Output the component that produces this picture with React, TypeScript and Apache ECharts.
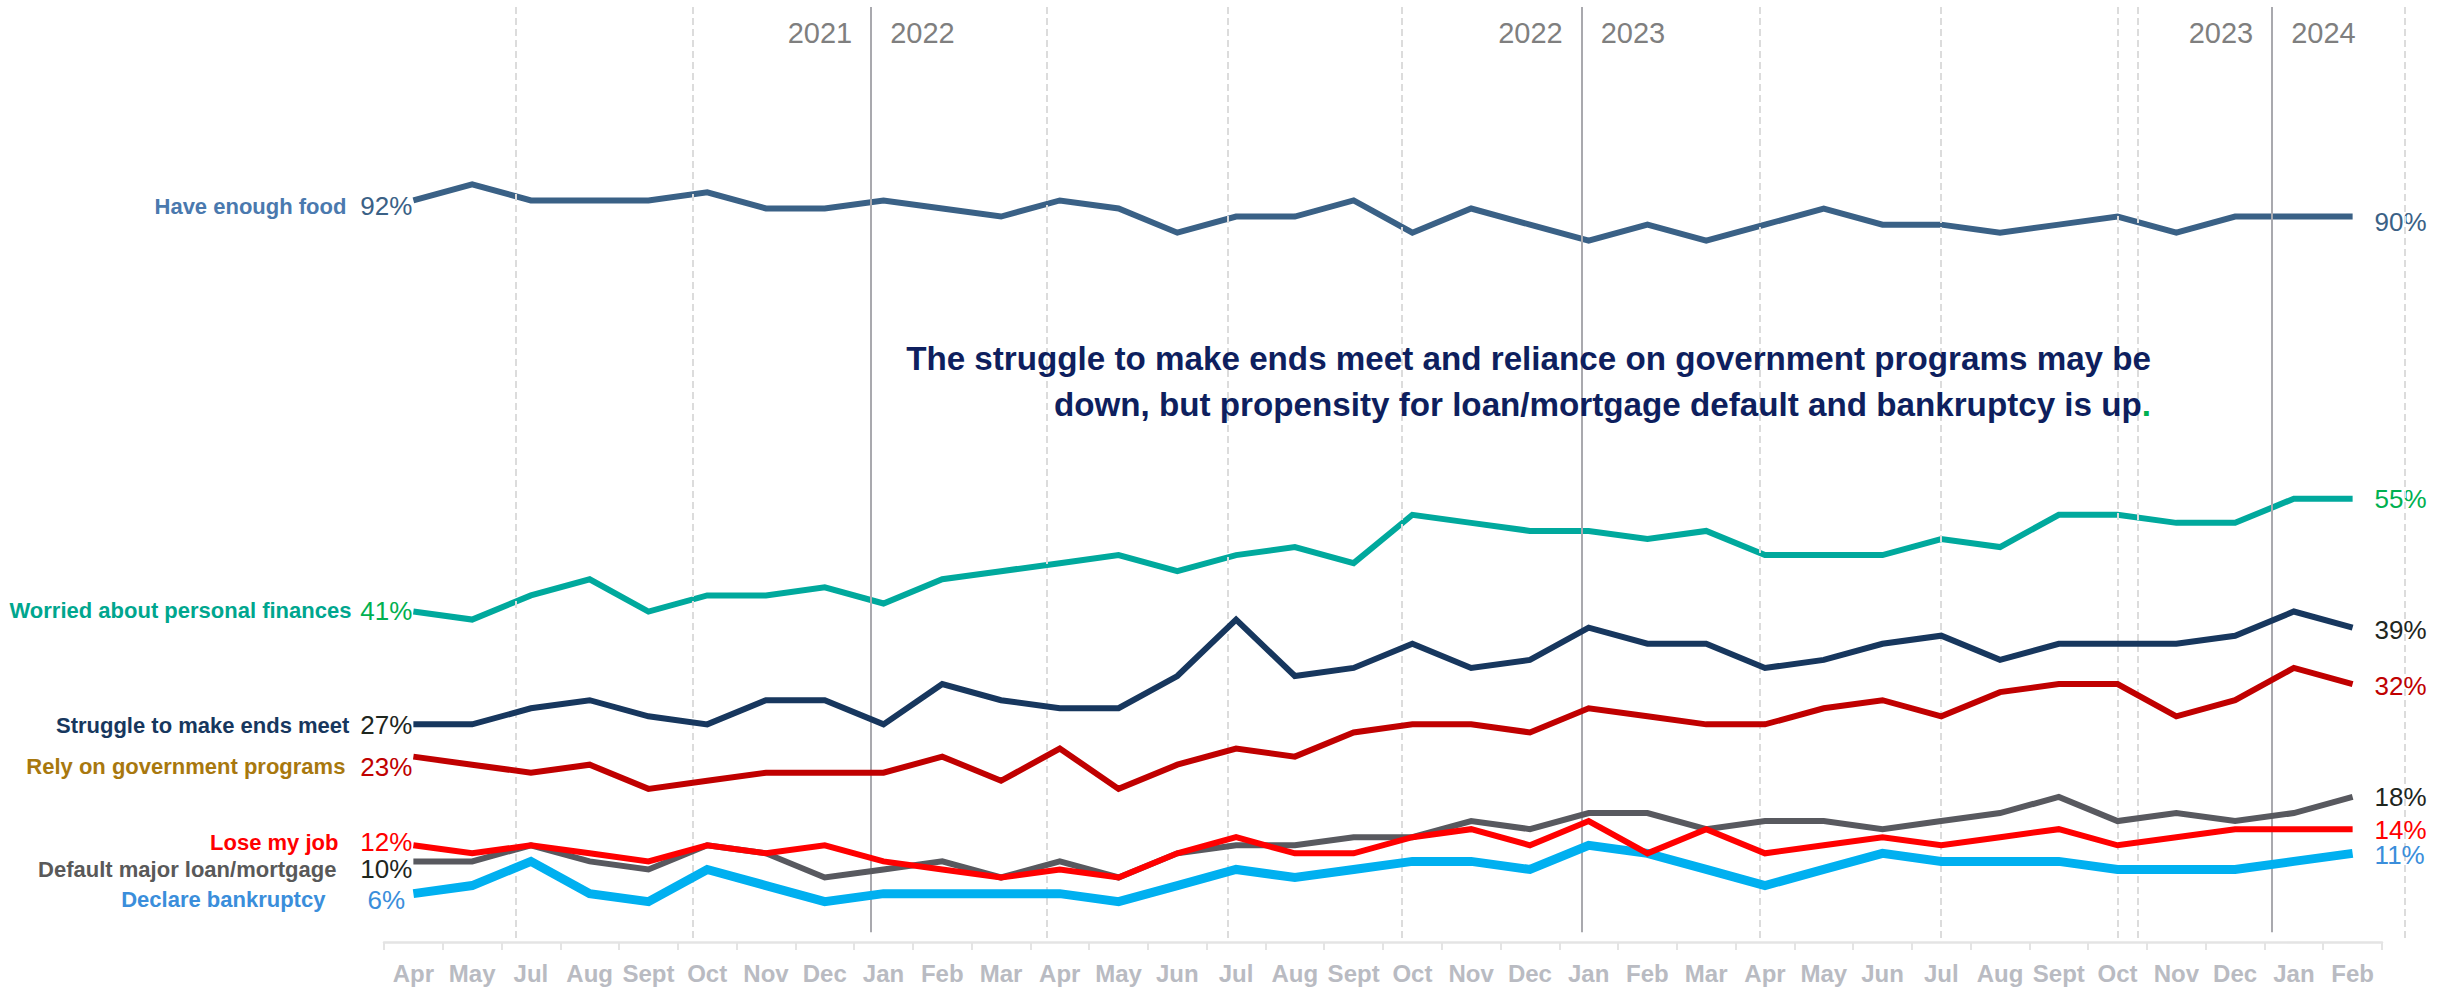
import React, { useEffect, useRef } from 'react';
import * as echarts from 'echarts';

// ---------- data ----------
const months = [
  'Apr', 'May', 'Jul', 'Aug', 'Sept', 'Oct', 'Nov', 'Dec',
  'Jan', 'Feb', 'Mar', 'Apr', 'May', 'Jun', 'Jul', 'Aug', 'Sept', 'Oct', 'Nov', 'Dec',
  'Jan', 'Feb', 'Mar', 'Apr', 'May', 'Jun', 'Jul', 'Aug', 'Sept', 'Oct', 'Nov', 'Dec',
  'Jan', 'Feb',
];

const haveEnoughFood = [92, 94, 92, 92, 92, 93, 91, 91, 92, 91, 90, 92, 91, 88, 90, 90, 92, 88, 91, 89, 87, 89, 87, 89, 91, 89, 89, 88, 89, 90, 88, 90, 90, 90];
const worriedFinances = [41, 40, 43, 45, 41, 43, 43, 44, 42, 45, 46, 47, 48, 46, 48, 49, 47, 53, 52, 51, 51, 50, 51, 48, 48, 48, 50, 49, 53, 53, 52, 52, 55, 55];
const struggleEnds = [27, 27, 29, 30, 28, 27, 30, 30, 27, 32, 30, 29, 29, 33, 40, 33, 34, 37, 34, 35, 39, 37, 37, 34, 35, 37, 38, 35, 37, 37, 37, 38, 41, 39];
const relyGovernment = [23, 22, 21, 22, 19, 20, 21, 21, 21, 23, 20, 24, 19, 22, 24, 23, 26, 27, 27, 26, 29, 28, 27, 27, 29, 30, 28, 31, 32, 32, 28, 30, 34, 32];
const loseJob = [12, 11, 12, 11, 10, 12, 11, 12, 10, 9, 8, 9, 8, 11, 13, 11, 11, 13, 14, 12, 15, 11, 14, 11, 12, 13, 12, 13, 14, 12, 13, 14, 14, 14];
const defaultLoan = [10, 10, 12, 10, 9, 12, 11, 8, 9, 10, 8, 10, 8, 11, 12, 12, 13, 13, 15, 14, 16, 16, 14, 15, 15, 14, 15, 16, 18, 15, 16, 15, 16, 18];
const declareBankruptcy = [6, 7, 10, 6, 5, 9, 7, 5, 6, 6, 6, 6, 5, 7, 9, 8, 9, 10, 10, 9, 12, 11, 9, 7, 9, 11, 10, 10, 10, 9, 9, 9, 10, 11];

const seriesNames = [
  'Have enough food',
  'Worried about personal finances',
  'Struggle to make ends meet',
  'Rely on government programs',
  'Default major loan/mortgage',
  'Declare bankruptcy',
  'Lose my job',
];

// gridline positions in category-index units
const quarterLines = [1.75, 4.76, 10.77, 13.86, 16.82, 22.91, 25.99, 29.0, 29.34, 33.88];
const yearLines = [7.79, 19.88, 31.63];
const yearLabelPairs = [['2021', '2022'], ['2022', '2023'], ['2023', '2024']];

const titleLine1 = 'The struggle to make ends meet and reliance on government programs may be';
const titleLine2 = 'down, but propensity for loan/mortgage default and bankruptcy is up';

// ---------- styles ----------
const FONT = "'Liberation Sans', Arial, sans-serif";
const Y_MAX = 116;

const styles = [
  { line: '#3A6186', width: 6, name: '#4A79AE', start: '#3A6186', end: '#3A6186', gap: 13, dy: 6, endDy: 5 },
  { line: '#00A99D', width: 6, name: '#00A68E', start: '#00B050', end: '#00B050', gap: 8, dy: -1, endDy: 0 },
  { line: '#17375E', width: 6, name: '#17375E', start: '#1E261E', end: '#1E261E', gap: 10, dy: 1, endDy: 2 },
  { line: '#C00000', width: 6, name: '#A8780E', start: '#C00000', end: '#C00000', gap: 14, dy: 10, endDy: 2 },
  { line: '#58595F', width: 6, name: '#595959', start: '#1E261E', end: '#1E261E', gap: 23, dy: 8, endDy: 0 },
  { line: '#00B0F0', width: 9, name: '#3A8EDB', start: '#3A8EDB', end: '#3A8EDB', gap: 34, dy: 6, endDy: 2 },
  { line: '#FF0000', width: 6, name: '#FF0000', start: '#FF0000', end: '#FF0000', gap: 21, dy: -3, endDy: 1 },
];

const seriesValues = [
  haveEnoughFood,
  worriedFinances,
  struggleEnds,
  relyGovernment,
  defaultLoan,
  declareBankruptcy,
  loseJob,
];

function buildSeries() {
  const out: any[] = [];
  seriesValues.forEach((vals, si) => {
    const st = styles[si];
    const name = seriesNames[si];
    const last = vals.length - 1;
    const data = vals.map((v, i) => {
      if (i === 0) {
        return {
          value: v,
          label: {
            show: true,
            position: 'left',
            distance: 0,
            offset: [0, st.dy],
            formatter: `{n|${name}}{p|${v}%}`,
            rich: {
              n: {
                fontFamily: FONT,
                fontSize: 22,
                fontWeight: 'bold',
                color: st.name,
                padding: [0, st.gap, 0, 0],
                verticalAlign: 'middle',
              },
              p: {
                fontFamily: FONT,
                fontSize: 26,
                color: st.start,
                width: 54,
                align: 'left',
                verticalAlign: 'middle',
              },
            },
          },
        };
      }
      if (i === last) {
        return {
          value: v,
          label: {
            show: true,
            position: 'right',
            distance: 22,
            offset: [0, st.endDy],
            formatter: `${v}%`,
            fontFamily: FONT,
            fontSize: 26,
            color: st.end,
          },
        };
      }
      return v;
    });
    out.push({
      type: 'line',
      name,
      xAxisIndex: 0,
      yAxisIndex: 0,
      data,
      symbol: 'circle',
      symbolSize: 0,
      showSymbol: true,
      showAllSymbol: true,
      silent: true,
      lineStyle: { color: st.line, width: st.width, join: 'miter' },
      itemStyle: { color: st.line },
      emphasis: { disabled: true },
      z: 3 + si,
    });
  });

  // gridlines & year labels on the helper grid
  const mlData: any[] = [];
  quarterLines.forEach((x) => {
    mlData.push([
      { coord: [x, 0.5], lineStyle: { color: '#DCDCDC', width: 2, type: [7, 4] } },
      { coord: [x, Y_MAX] },
    ]);
  });
  yearLines.forEach((x) => {
    mlData.push([
      { coord: [x, 1.2], lineStyle: { color: '#A9A9AE', width: 2, type: 'solid' } },
      { coord: [x, Y_MAX] },
    ]);
  });
  const mpData: any[] = [];
  yearLines.forEach((x, k) => {
    mpData.push({ coord: [x, 112.8], label: { formatter: yearLabelPairs[k][0], position: 'left' } });
    mpData.push({ coord: [x, 112.8], label: { formatter: yearLabelPairs[k][1], position: 'right' } });
  });
  out.push({
    type: 'line',
    name: 'grid-helper',
    xAxisIndex: 1,
    yAxisIndex: 1,
    data: [],
    silent: true,
    z: 1,
    markLine: {
      silent: true,
      symbol: ['none', 'none'],
      label: { show: false },
      emphasis: { disabled: true },
      animation: false,
      data: mlData,
    },
    markPoint: {
      silent: true,
      symbol: 'circle',
      symbolSize: 0,
      animation: false,
      label: {
        show: true,
        distance: 19,
        color: '#7F7F7F',
        fontFamily: FONT,
        fontSize: 29,
      },
      data: mpData,
    },
  });
  return out;
}

export default function App() {
  const ref = useRef<HTMLDivElement>(null);
  useEffect(() => {
    if (!ref.current) return;
    const chart = echarts.init(ref.current, undefined, { renderer: 'svg' });
    const titleRich = {
      a: { fontFamily: FONT, fontSize: 33.2, fontWeight: 'bold', fill: '#0E1F5E', lineHeight: 46 },
      g: { fontFamily: FONT, fontSize: 33.2, fontWeight: 'bold', fill: '#00B050', lineHeight: 46 },
    };
    const option: any = {
      animation: false,
      backgroundColor: '#ffffff',
      grid: [
        { left: 384, right: 76, top: 7, bottom: 48, outerBoundsMode: 'none', containLabel: false },
        { left: 384, right: 17.2, top: 7, bottom: 48, outerBoundsMode: 'none', containLabel: false },
      ],
      xAxis: [
        {
          type: 'category',
          gridIndex: 0,
          data: months,
          boundaryGap: true,
          axisLine: { show: true, lineStyle: { color: '#E4E4E4', width: 2.5 } },
          axisTick: { show: true, length: 8, lineStyle: { color: '#E4E4E4', width: 2 } },
          axisLabel: {
            interval: 0,
            margin: 19,
            color: '#B9BBC2',
            fontSize: 24,
            fontWeight: 'bold',
            fontFamily: FONT,
            hideOverlap: false,
          },
          splitLine: { show: false },
        },
        { type: 'value', gridIndex: 1, min: -0.5, max: 34.5, show: false },
      ],
      yAxis: [
        { type: 'value', gridIndex: 0, min: 0, max: Y_MAX, show: false },
        { type: 'value', gridIndex: 1, min: 0, max: Y_MAX, show: false },
      ],
      graphic: [
        {
          type: 'text',
          right: 307,
          top: 342,
          z: 10,
          style: {
            text: `{a|${titleLine1}}`,
            align: 'right',
            rich: titleRich,
          },
        },
        {
          type: 'text',
          right: 307,
          top: 388,
          z: 10,
          style: {
            text: `{a|${titleLine2}}{g|.}`,
            align: 'right',
            rich: titleRich,
          },
        },
      ],
      series: buildSeries(),
    };
    chart.setOption(option);
    return () => {
      chart.dispose();
    };
  }, []);
  return (
    <div
      ref={ref}
      style={{ position: 'absolute', left: 0, top: 0, width: 2458, height: 990, background: '#fff' }}
    />
  );
}
